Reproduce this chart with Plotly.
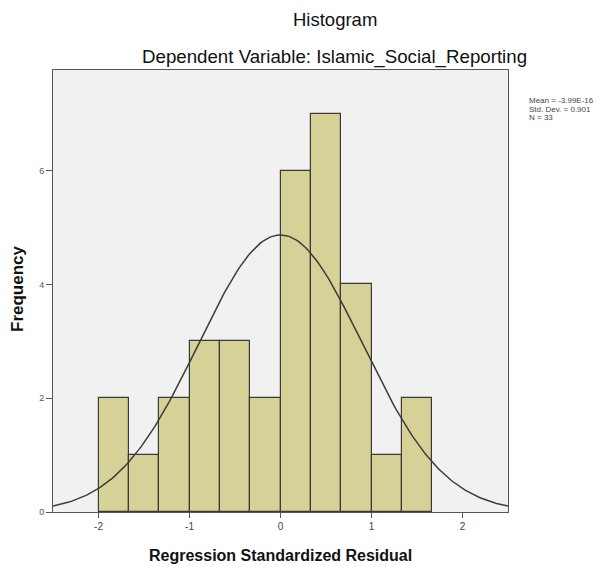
import numpy as np
import plotly.graph_objects as go

# Histogram data
bin_starts = [-2.0, -5/3, -4/3, -1.0, -2/3, -1/3, 0.0, 1/3, 2/3, 1.0, 4/3]
bin_width = 1/3
counts = [2, 1, 2, 3, 3, 2, 6, 7, 4, 1, 2]

# Summary stats shown on the chart
stat_mean = -3.99e-16
stat_std = 0.901
stat_n = 33
stat_lines = ["Mean = -3.99E-16", "Std. Dev. = 0.901", "N = 33"]

x_ticks = [-2, -1, 0, 1, 2]
y_ticks = [0, 2, 4, 6]

# Normal curve defined by the displayed mean / std / N
curve_x = np.linspace(-2.5, 2.5, 201)
curve_y = stat_n * bin_width * np.exp(-0.5 * ((curve_x - stat_mean) / stat_std) ** 2) / (stat_std * np.sqrt(2 * np.pi))

W, H = 608, 567
OFF = 8  # page body margin offset
# target plot box in screenshot pixels: left 53, right 508, top 70, bottom 512
L, T = 53 - OFF, 70 - OFF
R = W - (508 - OFF)
B = H - (512 - OFF)
pw, ph = W - L - R, H - T - B

def px(x):
    return (x - OFF - L) / pw

def py(y):
    return (H - B - (y - OFF)) / ph

fig = go.Figure()
fig.add_trace(go.Bar(
    x=bin_starts, y=counts, width=bin_width, offset=0,
    marker=dict(color="#d5d197", line=dict(color="#3a3a3a", width=1.2)),
    hoverinfo="skip",
))
fig.add_trace(go.Scatter(
    x=curve_x, y=curve_y, mode="lines",
    line=dict(color="#3c3c3c", width=1.5), hoverinfo="skip",
))

fig.update_layout(
    width=W, height=H,
    paper_bgcolor="white", plot_bgcolor="#f1f1f2",
    showlegend=False, bargap=0,
    margin=dict(l=L, r=R, t=T, b=B, autoexpand=False),
    font=dict(family="Liberation Sans, Arial, sans-serif", color="#111"),
)

fig.add_annotation(text="Histogram", xref="paper", yref="paper", x=px(335), y=py(20),
                   xanchor="center", yanchor="middle", showarrow=False, font=dict(size=18.5, color="#111"))
fig.add_annotation(text="Dependent Variable: Islamic_Social_Reporting", xref="paper", yref="paper",
                   x=px(334), y=py(57), xanchor="center", yanchor="middle",
                   showarrow=False, font=dict(size=18.7, color="#111"))
for i, s in enumerate(stat_lines):
    fig.add_annotation(text=s, xref="paper", yref="paper", x=px(527), y=py(100 + 9 * i),
                       xanchor="left", yanchor="middle", showarrow=False,
                       font=dict(size=8, color="#444"))
fig.add_annotation(text="<b>Regression Standardized Residual</b>", xref="paper", yref="paper",
                   x=px(280), y=py(555), xanchor="center", yanchor="middle", showarrow=False,
                   font=dict(size=16, color="#111"))
fig.add_annotation(text="<b>Frequency</b>", xref="paper", yref="paper", textangle=-90,
                   x=px(17), y=py(289), xanchor="center", yanchor="middle", showarrow=False,
                   font=dict(size=17, color="#111"))

fig.update_xaxes(
    range=[-2.5, 2.5], tickvals=x_ticks, ticktext=[str(v) for v in x_ticks],
    showgrid=False, zeroline=False, showline=True, mirror=True, linecolor="#555", linewidth=1,
    ticks="outside", ticklen=5, tickcolor="#555", tickfont=dict(size=10, color="#444"),
    automargin=False,
)
fig.update_yaxes(
    range=[0, 7.77], tickvals=y_ticks, ticktext=[str(v) for v in y_ticks],
    showgrid=False, zeroline=False, showline=True, mirror=True, linecolor="#555", linewidth=1,
    ticks="outside", ticklen=6, tickcolor="#555", tickfont=dict(size=9, color="#555"),
    automargin=False,
)

fig.write_html("out.html")
